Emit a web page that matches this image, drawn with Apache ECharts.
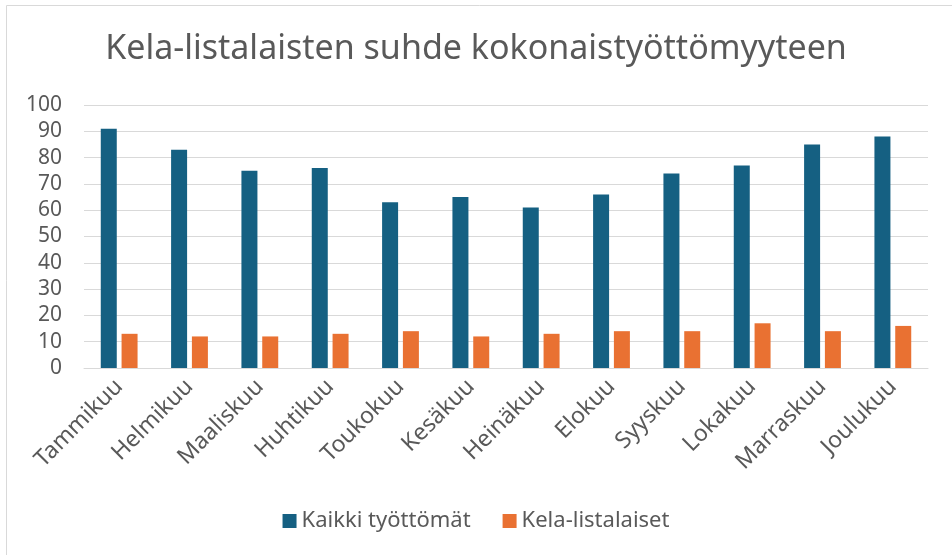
<!DOCTYPE html>
<html>
<head>
<meta charset="utf-8">
<script src="https://cdn.jsdelivr.net/npm/echarts@6/dist/echarts.min.js"></script>
<style>
html,body{margin:0;padding:0;background:#fff;}
#main{width:952px;height:555px;}
</style>
</head>
<body>
<div id="main"></div>
<script>
var months = ['Tammikuu', 'Helmikuu', 'Maaliskuu', 'Huhtikuu', 'Toukokuu', 'Kesäkuu',
    'Heinäkuu', 'Elokuu', 'Syyskuu', 'Lokakuu', 'Marraskuu', 'Joulukuu'];
var kaikki = [91, 83, 75, 76, 63, 65, 61, 66, 74, 77, 85, 88]; // Kaikki työttömät
var kela = [13, 12, 12, 13, 14, 12, 13, 14, 14, 17, 14, 16];   // Kela-listalaiset
var seriesNames = ['Kaikki työttömät', 'Kela-listalaiset'];

var textColor = '#595959';
var font = 'Noto Sans';

var myChart = echarts.init(document.getElementById('main'));
var option = {
    animation: false,
    color: ['#156082', '#E97132'],
    graphic: [{
        type: 'rect',
        shape: {x: 6.5, y: 5.5, width: 1000, height: 1000},
        style: {fill: 'none', stroke: '#d9d9d9', lineWidth: 1},
        silent: true
    }],
    title: {
        text: 'Kela-listalaisten suhde kokonaistyöttömyyteen',
        left: 'center',
        top: 27,
        textStyle: {
            color: textColor,
            fontFamily: font,
            fontSize: 34,
            fontWeight: 'normal'
        }
    },
    legend: {
        data: seriesNames,
        bottom: 18,
        left: 'center',
        icon: 'rect',
        itemWidth: 14,
        itemHeight: 14,
        itemGap: 32,
        textStyle: {color: textColor, fontFamily: font, fontSize: 22}
    },
    grid: {
        left: 84,
        right: 24,
        top: 105,
        bottom: 187
    },
    xAxis: {
        type: 'category',
        data: months,
        axisTick: {show: false},
        axisLine: {lineStyle: {color: '#d9d9d9', width: 1}},
        axisLabel: {
            rotate: 45,
            margin: 15,
            interval: 0,
            color: textColor,
            fontFamily: font,
            fontSize: 23
        }
    },
    yAxis: {
        type: 'value',
        min: 0,
        max: 100,
        interval: 10,
        axisLine: {show: false},
        axisTick: {show: false},
        splitLine: {lineStyle: {color: '#d9d9d9', width: 1}},
        axisLabel: {
            margin: 22,
            color: textColor,
            fontFamily: font,
            fontSize: 21
        }
    },
    series: [
        {
            name: seriesNames[0],
            type: 'bar',
            data: kaikki,
            barWidth: 16,
            barGap: '30%'
        },
        {
            name: seriesNames[1],
            type: 'bar',
            data: kela,
            barWidth: 16,
            barGap: '30%'
        }
    ]
};
myChart.setOption(option);
</script>
</body>
</html>
